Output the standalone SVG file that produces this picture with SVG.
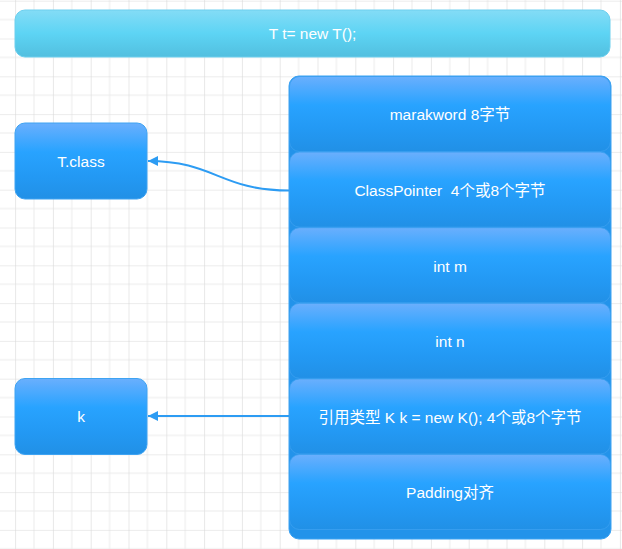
<svg xmlns="http://www.w3.org/2000/svg" width="622" height="549" viewBox="0 0 622 549">
<defs>
<pattern id="grid" patternUnits="userSpaceOnUse" x="15.1" y="0.7" width="37.8" height="37.8">
<path d="M18.9 0V37.8M0 18.9H37.8" stroke="#ececec" stroke-width="1" fill="none"/>
<path d="M0 0V37.8M0 0H37.8" stroke="#d9d9d9" stroke-width="1.2" fill="none"/>
</pattern>
<linearGradient id="gBlue" x1="0" y1="0" x2="0" y2="1">
<stop offset="0" stop-color="#6aaffd"/>
<stop offset="0.38" stop-color="#28a3ff"/>
<stop offset="0.7" stop-color="#2399f4"/>
<stop offset="1" stop-color="#2190e6"/>
</linearGradient>
<linearGradient id="gCyan" x1="0" y1="0" x2="0" y2="1">
<stop offset="0" stop-color="#84dcf6"/>
<stop offset="0.5" stop-color="#5dd4f4"/>
<stop offset="1" stop-color="#52bfdf"/>
</linearGradient>
<marker id="arr" viewBox="0 0 10 10" refX="10" refY="5" markerWidth="11" markerHeight="10" markerUnits="userSpaceOnUse" orient="auto">
<path d="M0 0L10 5L0 10z" fill="#2d9cf3"/>
</marker>
<style>
.lbl{font-family:"Liberation Sans","Noto Sans CJK SC",Arial,sans-serif;font-size:15.5px;fill:#ffffff;text-anchor:middle}
.box{fill:url(#gBlue);stroke:#3ea3f2;stroke-width:1}
.cell{fill:url(#gBlue);stroke:#3a9ff0;stroke-width:0.8}
.conn{fill:none;stroke:#2d9cf3;stroke-width:2}
</style>
</defs>
<rect x="0" y="0" width="622" height="549" fill="#ffffff"/>
<rect x="0" y="0" width="622" height="549" fill="url(#grid)"/>

<g id="banner">
<rect x="15" y="10" width="595" height="47" rx="10" ry="10" fill="url(#gCyan)" stroke="#6ccfee" stroke-width="1"/>
<text class="lbl" x="312.5" y="39">T t= new T();</text>
</g>

<g id="object">
<rect x="289" y="76" width="322" height="463" rx="10" ry="10" fill="#2393ea" stroke="#3aa2f3" stroke-width="1"/>
<g id="cell-markword">
<rect class="cell" x="289.5" y="76.5" width="321" height="75" rx="10" ry="10"/>
<text class="lbl" x="450" y="120">marakword 8字节</text>
</g>
<g id="cell-classpointer">
<rect class="cell" x="289.5" y="152.1" width="321" height="75" rx="10" ry="10"/>
<text class="lbl" x="450" y="196" xml:space="preserve">ClassPointer  4个或8个字节</text>
</g>
<g id="cell-int-m">
<rect class="cell" x="289.5" y="227.7" width="321" height="75" rx="10" ry="10"/>
<text class="lbl" x="450" y="271.5">int m</text>
</g>
<g id="cell-int-n">
<rect class="cell" x="289.5" y="303.3" width="321" height="75" rx="10" ry="10"/>
<text class="lbl" x="450" y="347">int n</text>
</g>
<g id="cell-ref">
<rect class="cell" x="289.5" y="378.9" width="321" height="75" rx="10" ry="10"/>
<text class="lbl" x="450" y="422.5">引用类型 K k = new K(); 4个或8个字节</text>
</g>
<g id="cell-padding">
<rect class="cell" x="289.5" y="454.5" width="321" height="75" rx="10" ry="10"/>
<text class="lbl" x="450" y="498">Padding对齐</text>
</g>
</g>

<g id="tclass">
<rect class="box" x="15" y="123" width="132" height="76" rx="10" ry="10"/>
<text class="lbl" x="81" y="167">T.class</text>
</g>

<g id="k">
<rect class="box" x="15" y="378.5" width="132" height="76" rx="10" ry="10"/>
<text class="lbl" x="81" y="422">k</text>
</g>

<g id="connectors">
<path class="conn" d="M289 190.5C220 190.5 215 161 148 161" marker-end="url(#arr)"/>
<path class="conn" d="M289 416H148" marker-end="url(#arr)"/>
</g>
</svg>
